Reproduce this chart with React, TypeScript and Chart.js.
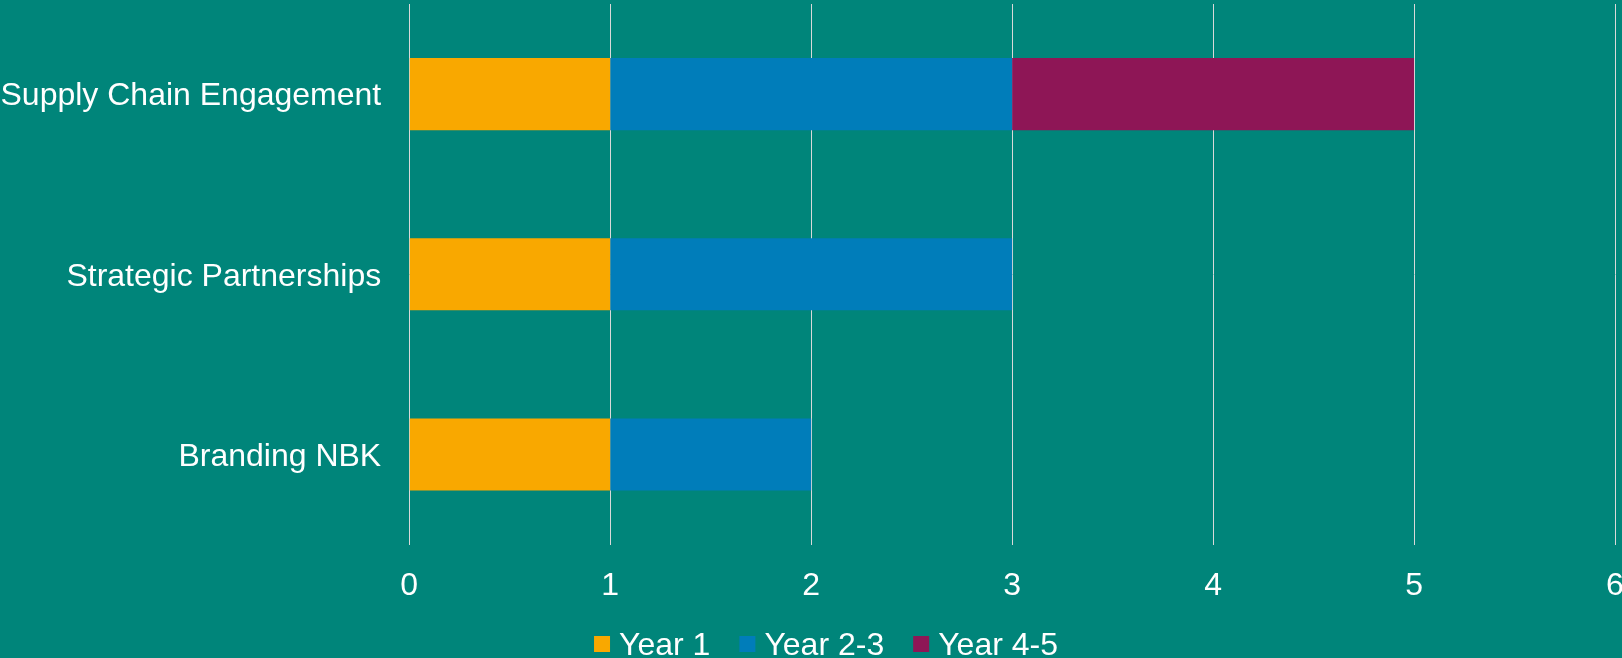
import React, { useEffect, useRef } from "react";
import { Chart, registerables } from "chart.js";

Chart.register(...registerables);

const categories = ["Supply Chain Engagement", "Strategic Partnerships", "Branding NBK"];
const seriesNames = ["Year 1", "Year 2-3", "Year 4-5"];
const year1 = [1, 1, 1];
const year23 = [2, 2, 1];
const year45 = [2, 0, 0];
const xTickValues = [0, 1, 2, 3, 4, 5, 6];

const BG = "#00857a";
const COLORS = ["#f9a800", "#007dba", "#8e1656"];
const GRID = "#d9d9d9";
const FONT = '"Liberation Sans", Arial, Helvetica, sans-serif';
const FONT_SIZE = 32;

const bgPlugin = {
  id: "bgFill",
  beforeDraw(chart: any) {
    const { ctx, width, height } = chart;
    ctx.save();
    ctx.fillStyle = BG;
    ctx.fillRect(0, 0, width, height);
    ctx.restore();
  },
};

const legendPlugin = {
  id: "bottomLegend",
  afterDraw(chart: any) {
    const ctx = chart.ctx;
    ctx.save();
    ctx.font = `${FONT_SIZE}px ${FONT}`;
    const box = 16;
    const textGap = 9;
    const itemGap = 29;
    const items = chart.data.datasets.map((ds: any) => ({
      label: ds.label as string,
      color: ds.backgroundColor as string,
      w: ctx.measureText(ds.label).width,
    }));
    const total =
      items.reduce((s: number, it: any) => s + box + textGap + it.w, 0) +
      itemGap * (items.length - 1);
    let x = chart.width / 2 + 15 - total / 2;
    const baseline = chart.height - 3.5;
    const boxTop = baseline - 18.5;
    ctx.textBaseline = "alphabetic";
    ctx.textAlign = "left";
    for (const it of items) {
      ctx.fillStyle = it.color;
      ctx.fillRect(x, boxTop, box, box);
      x += box + textGap;
      ctx.fillStyle = "#ffffff";
      ctx.fillText(it.label, x, baseline);
      x += it.w + itemGap;
    }
    ctx.restore();
  },
};

export default function App() {
  const canvasRef = useRef<HTMLCanvasElement | null>(null);

  useEffect(() => {
    if (!canvasRef.current) return;
    const seriesValues = [year1, year23, year45];
    const chart = new Chart(canvasRef.current, {
      type: "bar",
      data: {
        labels: categories,
        datasets: seriesNames.map((name, i) => ({
          label: name,
          data: seriesValues[i],
          backgroundColor: COLORS[i],
          borderWidth: 0,
          barPercentage: 0.4,
          categoryPercentage: 1.0,
        })),
      },
      options: {
        indexAxis: "y",
        animation: false,
        responsive: true,
        maintainAspectRatio: false,
        layout: { padding: { top: 4, left: 0.5, right: 7, bottom: 31 } },
        plugins: {
          legend: { display: false },
          tooltip: { enabled: false },
        },
        scales: {
          x: {
            stacked: true,
            min: 0,
            max: 6,
            afterBuildTicks: (scale: any) => {
              scale.ticks = xTickValues.map((v) => ({ value: v }));
            },
            afterFit: (scale: any) => {
              scale.paddingLeft = 0;
              scale.paddingRight = 0;
            },
            ticks: {
              color: "#ffffff",
              font: { family: FONT, size: FONT_SIZE },
              padding: 22,
              maxRotation: 0,
            },
            grid: { color: GRID, lineWidth: 1, drawTicks: false },
            border: { display: false },
          },
          y: {
            stacked: true,
            afterFit: (scale: any) => {
              scale.width -= scale.options.ticks.padding;
              scale.paddingTop = 0;
              scale.paddingBottom = 0;
            },
            ticks: {
              color: "#ffffff",
              font: { family: FONT, size: FONT_SIZE },
              padding: 28,
              labelOffset: 2.5,
            },
            grid: { display: false, drawTicks: false },
            border: { display: false },
          },
        },
      },
      plugins: [bgPlugin, legendPlugin],
    });
    return () => chart.destroy();
  }, []);

  return (
    <div style={{ position: "fixed", left: 0, top: 0, width: "100vw", height: "100vh", background: BG }}>
      <canvas ref={canvasRef} />
    </div>
  );
}
